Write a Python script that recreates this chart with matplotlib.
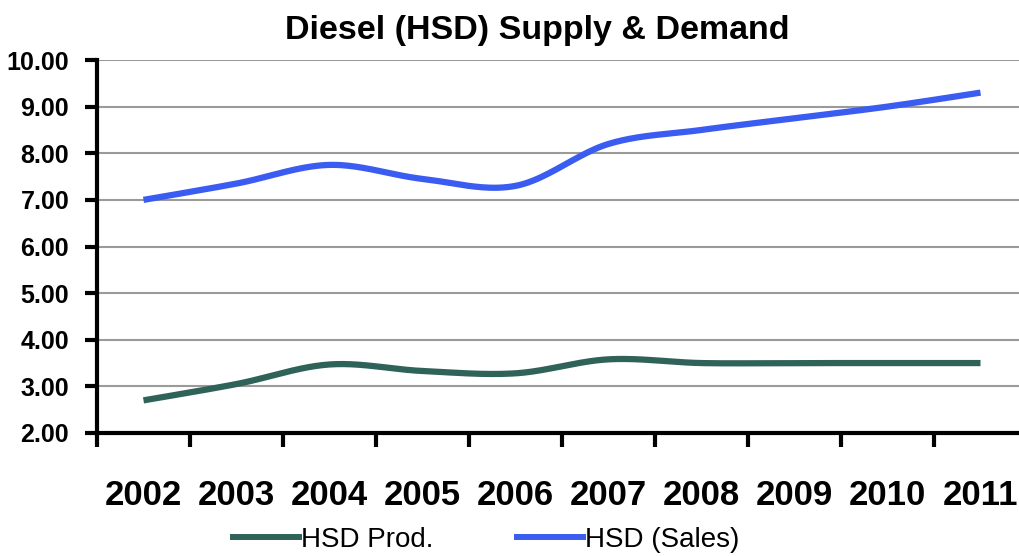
import numpy as np
import matplotlib
matplotlib.use("Agg")
import matplotlib.pyplot as plt
from matplotlib.lines import Line2D

years = ["2002", "2003", "2004", "2005", "2006", "2007", "2008", "2009", "2010", "2011"]
hsd_prod = [2.70, 3.05, 3.47, 3.33, 3.28, 3.58, 3.50, 3.50, 3.50, 3.50]
hsd_sales = [7.00, 7.35, 7.75, 7.45, 7.30, 8.20, 8.50, 8.75, 9.00, 9.30]

prod_color = "#2f6259"
sales_color = "#3a5cf0"

plt.rcParams['font.family'] = ['Liberation Sans', 'DejaVu Sans']


def smooth(xs, ys, n=40):
    """Excel-like smoothed line (Catmull-Rom cubic Bezier)."""
    xs = np.asarray(xs, float)
    ys = np.asarray(ys, float)
    P = np.column_stack([xs, ys])
    Pe = np.vstack([P[0], P, P[-1]])
    out = []
    t = np.linspace(0, 1, n)[:, None]
    for i in range(len(P) - 1):
        p0 = Pe[i + 1]
        p3 = Pe[i + 2]
        c1 = p0 + (Pe[i + 2] - Pe[i]) / 6.0
        c2 = p3 - (Pe[i + 3] - Pe[i + 1]) / 6.0
        seg = ((1 - t) ** 3) * p0 + 3 * ((1 - t) ** 2) * t * c1 + 3 * (1 - t) * t ** 2 * c2 + t ** 3 * p3
        out.append(seg if i == 0 else seg[1:])
    arr = np.vstack(out)
    return arr[:, 0], arr[:, 1]


fig = plt.figure(figsize=(10.19, 5.56), dpi=100)
ax = fig.add_axes([97 / 1019, 123 / 556, 930 / 1019, 373 / 556])

x = np.arange(len(years))
sx, sy = smooth(x, hsd_prod)
ax.plot(sx, sy, color=prod_color, lw=4.5, solid_capstyle='butt', zorder=3)
sx, sy = smooth(x, hsd_sales)
ax.plot(sx, sy, color=sales_color, lw=4.5, solid_capstyle='butt', zorder=3)

ax.set_xlim(-0.5, len(years) - 0.5)
ax.set_ylim(2, 10)
ax.set_yticks(np.arange(2, 10.01, 1))
ax.set_yticklabels([f"{v:.2f}" for v in np.arange(2, 10.01, 1)], fontsize=18, fontweight='bold')
ax.yaxis.grid(True, color='#9a9a9a', lw=1.5)
ax.set_axisbelow(True)

ax.set_xticks(np.arange(-0.5, len(years), 1))
ax.set_xticklabels([])
ax.set_xticks(x, minor=True)
ax.set_xticklabels(years, minor=True, fontsize=25, fontweight='bold')
ax.tick_params(axis='x', which='major', length=10, width=3, direction='out', color='black')
ax.tick_params(axis='x', which='minor', length=0, pad=33)
ax.tick_params(axis='y', length=9, width=3, direction='out', pad=11)

for s in ['top', 'right']:
    ax.spines[s].set_visible(False)
ax.spines['left'].set_linewidth(3)
ax.spines['bottom'].set_linewidth(3)

fig.text(0.527, 0.945, "Diesel (HSD) Supply & Demand", ha='center', va='center',
         fontsize=24.5, fontweight='bold')

handles = [Line2D([], [], color=prod_color, lw=4.3), Line2D([], [], color=sales_color, lw=4.3)]
fig.legend(handles, ["HSD Prod.", "HSD (Sales)"], ncol=2, loc='center',
           bbox_to_anchor=(0.477, 0.029), frameon=False, fontsize=20,
           handlelength=2.37, handletextpad=0.08, columnspacing=3.0,
           borderpad=0, borderaxespad=0)

fig.savefig("out.png", dpi=100)
